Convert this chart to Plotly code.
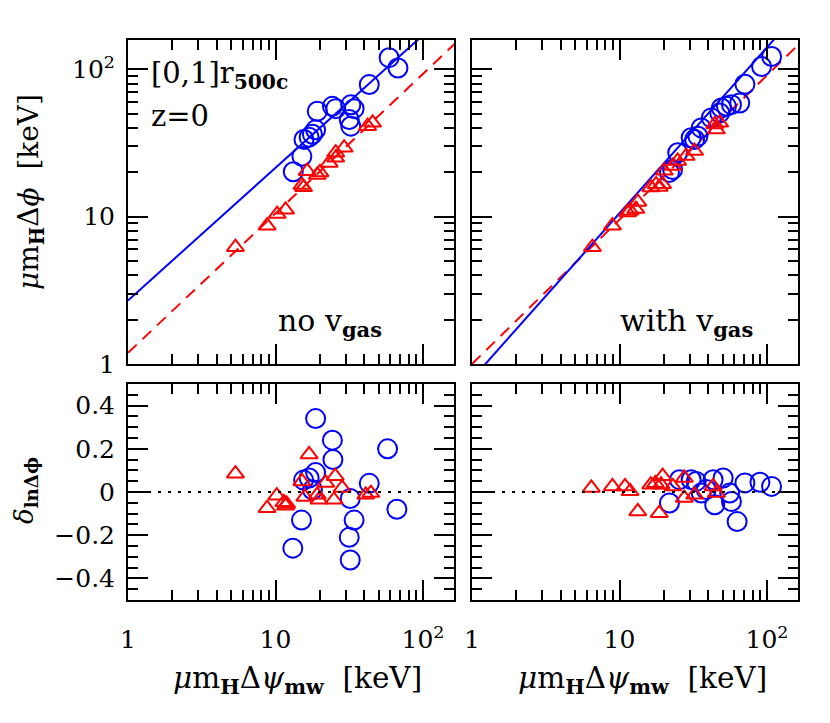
import plotly.graph_objects as go

# ---------------- data ----------------
# Top-left: no v_gas
nov_circ_x = [13.2, 15.1, 15.6, 16.9, 17.8, 18.7, 19.2, 24.3, 25.6, 32.4, 34.1, 31.6, 32.4, 43.2, 58.9, 67.6]
nov_circ_y = [20.2, 25.7, 33.5, 34.7, 36.3, 38.9, 52.0, 56.2, 54.2, 57.5, 54.2, 45.7, 41.2, 78.9, 120.2, 102.3]
nov_tri_x = [5.35, 8.77, 10.26, 11.7, 15.1, 15.5, 16.4, 19.2, 20.0, 23.1, 25.6, 25.6, 29.2, 42.1, 45.5]
nov_tri_y = [6.21, 8.69, 10.42, 11.14, 16.4, 15.85, 20.4, 19.2, 20.0, 23.2, 25.1, 27.2, 29.4, 41.2, 43.4]
nov_fit_blue_x = [1, 166]
nov_fit_blue_y = [2.7, 270]
nov_fit_red_x = [1, 166]
nov_fit_red_y = [1.19, 151]

# Top-right: with v_gas
wv_circ_x = [107.4, 91.8, 70.8, 65.3, 57.4, 53.1, 49.0, 47.8, 41.9, 35.8, 34.0, 32.3, 30.6, 24.8, 21.8, 22.9]
wv_circ_y = [122.5, 104.7, 79.4, 59.2, 57.7, 56.2, 54.8, 50.7, 46.9, 40.1, 35.2, 33.5, 34.4, 27.2, 20.0, 20.9]
wv_tri_x = [6.55, 8.95, 11.35, 11.8, 12.9, 13.3, 16.3, 17.7, 18.6, 19.6, 20.1, 23.0, 24.8, 28.3, 32.3, 44.2, 45.4, 47.8]
wv_tri_y = [6.21, 8.69, 10.69, 11.0, 11.27, 12.6, 15.8, 16.6, 15.9, 16.6, 20.5, 22.1, 23.9, 25.8, 27.9, 42.3, 39.1, 43.4]
wv_fit_blue_x = [1, 166]
wv_fit_blue_y = [0.79, 250]
wv_fit_red_x = [1, 166]
wv_fit_red_y = [1.0, 150]

# Bottom-left residuals: no v_gas
res_nov_circ_x = [18.7, 24.3, 24.5, 57.5, 43.2, 18.7, 16.9, 15.5, 17.8, 32.1, 66.5, 15.0, 34.1, 31.6, 13.1, 32.1]
res_nov_circ_y = [0.34, 0.24, 0.15, 0.20, 0.04, 0.09, 0.065, 0.055, 0.01, -0.03, -0.08, -0.13, -0.13, -0.21, -0.26, -0.315]
res_nov_tri_x = [5.35, 10.2, 8.77, 11.4, 11.7, 11.9, 16.9, 15.1, 15.8, 19.2, 19.7, 21.9, 25.4, 24.9, 28.3, 40.9, 44.3]
res_nov_tri_y = [0.085, -0.017, -0.075, -0.048, -0.064, -0.055, 0.174, 0.049, -0.023, -0.013, -0.036, 0.042, 0.073, -0.036, 0.019, -0.013, -0.005]

# Bottom-right residuals: with v_gas
res_wv_circ_x = [107.4, 89.5, 70.8, 62.7, 57.4, 55.8, 50.4, 43.1, 44.2, 38.7, 35.8, 33.1, 30.6, 25.5, 21.8]
res_wv_circ_y = [0.026, 0.045, 0.042, -0.137, -0.044, -0.005, 0.065, 0.057, -0.059, 0.011, -0.005, 0.049, 0.057, 0.057, -0.051]
res_wv_tri_x = [6.44, 8.95, 10.9, 11.8, 13.3, 16.3, 19.6, 19.1, 18.6, 23.0, 27.5, 27.5, 32.3, 43.1, 45.4, 17.5]
res_wv_tri_y = [0.019, 0.026, 0.026, 0.003, -0.09, 0.034, 0.073, 0.034, -0.098, 0.026, 0.065, -0.028, -0.013, 0.026, -0.005, 0.04]

log_tickvals = [1, 10, 100]
log_ticktext = ["1", "10", "10<sup>2</sup>"]

# ---------------- figure ----------------
# the page body has an 8px default margin, so the figure is 8px smaller
OFF = 8
W, H = 830 - OFF, 723 - OFF
BLUE = "rgb(0,0,255)"
RED = "rgb(255,0,0)"
FONT = "DejaVu Serif"

def fx(px):
    return (px - OFF) / W

def fy(py):
    return 1 - (py - OFF) / H

fig = go.Figure()

def add_panel(xa, ya, cx, cy, tx, ty, fits=None):
    if fits:
        bx, by, rx, ry = fits
        fig.add_trace(go.Scatter(x=rx, y=ry, mode="lines", xaxis=xa, yaxis=ya,
                                 line=dict(color=RED, width=2, dash="12px,8px"), showlegend=False))
        fig.add_trace(go.Scatter(x=bx, y=by, mode="lines", xaxis=xa, yaxis=ya,
                                 line=dict(color=BLUE, width=2), showlegend=False))
    fig.add_trace(go.Scatter(x=cx, y=cy, mode="markers", xaxis=xa, yaxis=ya,
                             marker=dict(symbol="circle-open", size=19, color=BLUE, line=dict(width=2, color=BLUE)),
                             showlegend=False))
    fig.add_trace(go.Scatter(x=tx, y=ty, mode="markers", xaxis=xa, yaxis=ya,
                             marker=dict(symbol="triangle-up-open", size=15, color=RED, line=dict(width=2, color=RED)),
                             showlegend=False))

add_panel("x", "y", nov_circ_x, nov_circ_y, nov_tri_x, nov_tri_y,
          (nov_fit_blue_x, nov_fit_blue_y, nov_fit_red_x, nov_fit_red_y))
add_panel("x2", "y2", wv_circ_x, wv_circ_y, wv_tri_x, wv_tri_y,
          (wv_fit_blue_x, wv_fit_blue_y, wv_fit_red_x, wv_fit_red_y))
add_panel("x3", "y3", res_nov_circ_x, res_nov_circ_y, res_nov_tri_x, res_nov_tri_y)
add_panel("x4", "y4", res_wv_circ_x, res_wv_circ_y, res_wv_tri_x, res_wv_tri_y)

xl = (fx(128), fx(454))
xr = (fx(472), fx(798))
yt = (fy(364), fy(40))
yb = (fy(600), fy(384))

tickfont = dict(family=FONT, size=25, color="black")

def log_axis(domain, anchor, labels, rng, standoff):
    return dict(type="log", range=rng, domain=domain, anchor=anchor, automargin=False,
                tickmode="array", tickvals=log_tickvals, ticktext=log_ticktext,
                ticks="inside", ticklen=20, tickwidth=2, tickcolor="black",
                minor=dict(dtick="D1", ticks="inside", ticklen=10,
                           tickwidth=2, tickcolor="black", showgrid=False),
                showline=True, linewidth=2, linecolor="black", mirror="allticks",
                showgrid=False, zeroline=False, showticklabels=labels,
                tickfont=tickfont, ticklabelstandoff=standoff)

def lin_axis(domain, anchor, labels):
    return dict(type="linear", range=[-0.5, 0.5], domain=domain, anchor=anchor, automargin=False,
                tickmode="linear", tick0=0, dtick=0.2,
                ticks="inside", ticklen=20, tickwidth=2, tickcolor="black",
                minor=dict(dtick=0.05, ticks="inside", ticklen=10, tickwidth=2, tickcolor="black", showgrid=False),
                showline=True, linewidth=2, linecolor="black", mirror="allticks",
                showgrid=False, zeroline=False, showticklabels=labels,
                tickfont=tickfont, ticklabelstandoff=6)

fig.update_layout(
    width=W, height=H,
    margin=dict(l=0, r=0, t=0, b=0),
    paper_bgcolor="white", plot_bgcolor="white",
    font=dict(family=FONT, color="black"),
    xaxis=log_axis(xl, "y", False, [0, 2.21], 0),
    yaxis=log_axis(yt, "x", True, [0, 2.2], 6),
    xaxis2=log_axis(xr, "y2", False, [0, 2.21], 0),
    yaxis2=log_axis(yt, "x2", False, [0, 2.2], 0),
    xaxis3=log_axis(xl, "y3", True, [0, 2.21], 16),
    yaxis3=lin_axis(yb, "x3", True),
    xaxis4=log_axis(xr, "y4", True, [0, 2.21], 16),
    yaxis4=lin_axis(yb, "x4", False),
)

# dotted zero lines
for xa, ya in (("x3", "y3"), ("x4", "y4")):
    fig.add_shape(type="line", xref=f"{xa} domain", yref=ya, x0=0, x1=1, y0=0, y1=0,
                  line=dict(color="black", width=2, dash="3px,7px"))

def ann(text, x, y, size, xanchor="left", angle=0):
    fig.add_annotation(text=text, x=fx(x), y=fy(y), xref="paper", yref="paper",
                       xanchor=xanchor, yanchor="middle", showarrow=False, textangle=angle,
                       font=dict(family=FONT, size=size, color="black"))

ann("[0,1]r<sub><b>500c</b></sub>", 149, 75, 29)
ann("z=0", 149, 116, 29)
ann("no v<sub><b>gas</b></sub>", 276, 322, 30)
ann("with v<sub><b>gas</b></sub>", 618, 322, 30)
ann("<i>μ</i>m<sub><b>H</b></sub>Δ<i>ϕ</i>  [keV]", 30, 192, 28, xanchor="center", angle=-90)
ann("<i>δ</i><sub><b>lnΔϕ</b></sub>", 26, 491, 26, xanchor="center", angle=-90)
ann("<i>μ</i>m<sub><b>H</b></sub>Δ<i>ψ</i><sub><b>mw</b></sub>  [keV]", 297, 680, 29.5, xanchor="center")
ann("<i>μ</i>m<sub><b>H</b></sub>Δ<i>ψ</i><sub><b>mw</b></sub>  [keV]", 642, 680, 29.5, xanchor="center")

fig.write_html("out.html")
